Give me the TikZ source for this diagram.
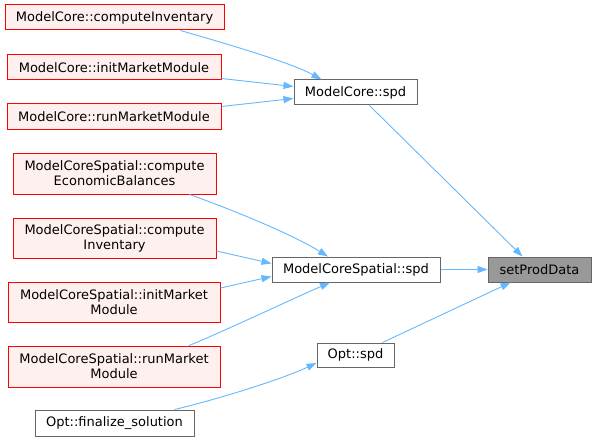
\documentclass[tikz,border=0pt]{standalone}
\usepackage{fontspec}
\setmainfont{DejaVu Sans}
\usetikzlibrary{arrows.meta}
\definecolor{edgeblue}{HTML}{63B8FF}
\definecolor{redfill}{HTML}{FFF0F0}
\definecolor{grayline}{HTML}{666666}
\definecolor{grayfill}{HTML}{999999}
\tikzset{
  base/.style={rectangle, inner sep=0pt, line width=1pt, align=center,
    font=\fontsize{13}{15}\selectfont, text=black},
  redbox/.style={base, draw=red, fill=redfill},
  graybox/.style={base, draw=grayline, fill=white},
  mainbox/.style={base, draw=grayline, fill=grayfill},
  edge/.style={draw=edgeblue, line width=0.9pt, -{Triangle[length=10pt,width=7pt]}},
}
\begin{document}
\begin{tikzpicture}[x=1pt,y=-1pt]
\useasboundingbox (0,0) rectangle (596,441);
% nodes
\node[redbox, minimum width=219, minimum height=25] (ci) at (114.5,17.5) {ModelCore::computeInventary};
\node[redbox, minimum width=214, minimum height=25] (im) at (114,67.5) {ModelCore::initMarketModule};
\node[redbox, minimum width=214, minimum height=25] (rm) at (114,116.5) {ModelCore::runMarketModule};
\node[graybox, minimum width=123, minimum height=25] (mcspd) at (355.5,92.5) {ModelCore::spd};
\node[redbox, minimum width=203, minimum height=41] (eb) at (114.5,173.5) {ModelCoreSpatial::compute\\EconomicBalances};
\node[redbox, minimum width=203, minimum height=40] (inv) at (114.5,238) {ModelCoreSpatial::compute\\Inventary};
\node[redbox, minimum width=212, minimum height=40] (ims) at (114,302) {ModelCoreSpatial::initMarket\\Module};
\node[redbox, minimum width=212, minimum height=41] (rms) at (114,366.5) {ModelCoreSpatial::runMarket\\Module};
\node[graybox, minimum width=159, minimum height=26] (fin) at (114.5,423) {Opt::finalize\_solution};
\node[graybox, minimum width=168, minimum height=25] (sspd) at (356,269.5) {ModelCoreSpatial::spd};
\node[mainbox, minimum width=103, minimum height=25] (spd) at (539.5,269.5) {setProdData};
\node[graybox, minimum width=77, minimum height=24] (opt) at (355.5,355) {Opt::spd};
% edges
\draw[edge] ([xshift=66pt]ci.south) .. controls (220,42) and (290,62) .. ([xshift=-34pt]mcspd.north);
\draw[edge] ([yshift=-11pt]im.east) -- ([yshift=6pt]mcspd.west);
\draw[edge] ([yshift=10pt]rm.east) -- ([yshift=-6pt]mcspd.west);
\draw[edge] ([xshift=14pt]mcspd.south) -- ([xshift=-17pt]spd.north);
\draw[edge] ([xshift=75pt]eb.south) .. controls (225,207) and (290,233) .. ([xshift=-28pt]sspd.north);
\draw[edge] ([yshift=-13pt]inv.east) -- ([yshift=6pt]sspd.west);
\draw[edge] ([yshift=14pt]ims.east) -- ([yshift=-7pt]sspd.west);
\draw[edge] ([xshift=75pt]rms.north) .. controls (220,333) and (290,300) .. ([xshift=-26pt]sspd.south);
\draw[edge] (sspd.east) -- (spd.west);
\draw[edge] ([xshift=27pt]opt.north) -- ([xshift=-29pt]spd.south);
\draw[edge] ([xshift=60pt]fin.north) .. controls (215,400) and (280,380) .. ([yshift=-8pt]opt.west);
\end{tikzpicture}
\end{document}
